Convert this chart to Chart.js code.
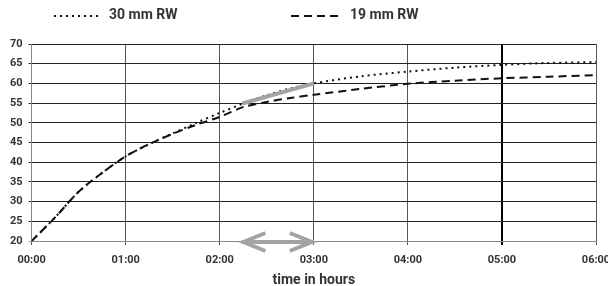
<!DOCTYPE html>
<html>
<head>
<meta charset="utf-8">
<script src="https://cdn.jsdelivr.net/npm/chart.js@4/dist/chart.umd.min.js"></script>
<style>
  html, body { margin: 0; padding: 0; background: #fff; }
  #wrap { width: 608px; height: 286px; }
</style>
</head>
<body>
<div id="wrap"><canvas id="dryingChart"></canvas></div>
<script>
// hours since start
const hours = [0, 0.25, 0.5, 0.75, 1, 1.25, 1.5, 1.75, 2, 2.25, 2.5, 2.75, 3, 3.5, 4, 4.5, 5, 5.5, 6];
const rw30 = [20, 26, 32.5, 37.3, 41.5, 44.6, 47.3, 50, 52.5, 54.9, 57, 58.7, 60, 61.8, 63, 64, 64.7, 65.2, 65.4];
const rw19 = [20, 26, 32.5, 37.3, 41.5, 44.6, 47.2, 49.5, 51.5, 54, 55.3, 56.3, 57.1, 58.6, 59.9, 60.7, 61.3, 61.7, 62.1];
// grey highlight segment and arrow (hours / value)
const highlightX = [2.24, 3];
const highlightY = [54.9, 60];
const arrowSpan = [2.23, 3];
const arrowLevel = 20;

const yTicks = [20, 25, 30, 35, 40, 45, 50, 55, 60, 65, 70];
const xTicks = [0, 1, 2, 3, 4, 5, 6];

const toPts = (xs, ys) => xs.map((x, i) => ({ x: x, y: ys[i] }));
const fmtHour = v => (v < 10 ? '0' : '') + v + ':00';

const FONT = 'Roboto, "Liberation Sans", sans-serif';

// legend drawn by hand so the two items sit where they do in the original
const legendPlugin = {
  id: 'lineLegend',
  afterDraw(chart) {
    const ctx = chart.ctx;
    const items = [
      { ds: 0, x1: 54, x2: 98, tx: 109 },
      { ds: 1, x1: 291, x2: 342, tx: 350 }
    ];
    ctx.save();
    items.forEach(it => {
      const ds = chart.data.datasets[it.ds];
      ctx.strokeStyle = ds.borderColor;
      ctx.lineWidth = 2;
      ctx.setLineDash(ds.borderDash);
      ctx.beginPath();
      ctx.moveTo(it.x1, 16);
      ctx.lineTo(it.x2, 16);
      ctx.stroke();
      ctx.setLineDash([]);
      ctx.fillStyle = '#333';
      ctx.font = 'bold 14px ' + FONT;
      ctx.textBaseline = 'middle';
      ctx.fillText(ds.label, it.tx, 15);
    });
    ctx.restore();
  }
};

const arrowPlugin = {
  id: 'spanArrow',
  afterDatasetsDraw(chart) {
    const ctx = chart.ctx;
    const xs = chart.scales.x, ys = chart.scales.y;
    const a = xs.getPixelForValue(arrowSpan[0]);
    const b = xs.getPixelForValue(arrowSpan[1]);
    const y = ys.getPixelForValue(arrowLevel) + 1;
    ctx.save();
    ctx.strokeStyle = '#a3a3a3';
    ctx.lineWidth = 4;
    ctx.lineCap = 'butt';
    ctx.beginPath();
    ctx.moveTo(a, y); ctx.lineTo(b, y);
    ctx.moveTo(a + 24, y - 9); ctx.lineTo(a + 2, y); ctx.lineTo(a + 24, y + 9);
    ctx.moveTo(b - 24, y - 9); ctx.lineTo(b - 2, y); ctx.lineTo(b - 24, y + 9);
    ctx.stroke();
    ctx.restore();
  }
};

const ctx = document.getElementById('dryingChart').getContext('2d');
const dryingChart = new Chart(ctx, {
  type: 'line',
  data: {
    datasets: [{
      label: '30 mm RW',
      data: toPts(hours, rw30),
      borderColor: '#111',
      borderWidth: 2,
      borderDash: [2, 4],
      pointRadius: 0,
      tension: 0.3
    }, {
      label: '19 mm RW',
      data: toPts(hours, rw19),
      borderColor: '#111',
      borderWidth: 2,
      borderDash: [8, 5],
      pointRadius: 0,
      tension: 0.3
    }, {
      label: 'highlight',
      data: toPts(highlightX, highlightY),
      borderColor: '#a3a3a3',
      borderWidth: 4,
      pointRadius: 0,
      order: -1 // on top of the curves
    }]
  },
  options: {
    responsive: true,
    maintainAspectRatio: false,
    animation: false,
    layout: { padding: { top: 44, left: 4, right: 0, bottom: 0 } },
    plugins: {
      legend: { display: false },
      tooltip: { enabled: false }
    },
    scales: {
      x: {
        type: 'linear',
        min: 0,
        max: 6,
        afterBuildTicks: axis => { axis.ticks = xTicks.map(v => ({ value: v })); },
        // last label is clipped at the right edge in the original
        afterFit: s => { s.height = 45; s.paddingRight = 12; },
        ticks: {
          callback: v => fmtHour(v),
          color: '#333',
          font: { family: FONT, size: 11, weight: 'bold' },
          padding: 9,
          maxRotation: 0
        },
        grid: {
          color: c => c.tick && c.tick.value === 5 ? '#000' : '#555',
          lineWidth: c => c.tick && c.tick.value === 5 ? 2 : 1,
          tickLength: 4
        },
        border: { color: '#888', width: 1 },
        title: {
          display: true,
          text: 'time in hours',
          color: '#333',
          font: { family: FONT, size: 14, weight: 'bold' },
          padding: { top: 7, bottom: -3 }
        }
      },
      y: {
        min: 20,
        max: 70,
        afterBuildTicks: axis => { axis.ticks = yTicks.map(v => ({ value: v })); },
        ticks: {
          color: '#333',
          font: { family: FONT, size: 11, weight: 'bold' },
          padding: 6
        },
        grid: {
          color: c => c.tick && c.tick.value === 20 ? '#999' : '#222',
          lineWidth: 1,
          tickLength: 3
        },
        border: { color: '#888', width: 1 }
      }
    }
  },
  plugins: [legendPlugin, arrowPlugin]
});
</script>
</body>
</html>
